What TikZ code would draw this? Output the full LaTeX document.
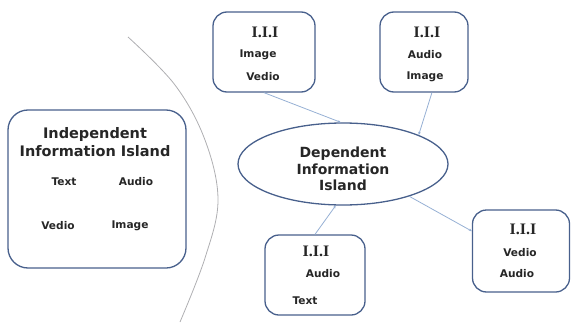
\documentclass[tikz,border=0pt]{standalone}
\usepackage{fontspec}
\setmainfont{DejaVu Sans}
\newfontfamily\serifb{Liberation Serif}
\usetikzlibrary{shapes.geometric,arrows.meta,calc}
\definecolor{boxblue}{RGB}{72,96,140}
\definecolor{linkblue}{RGB}{150,176,212}
\definecolor{curvegray}{RGB}{175,175,178}
\tikzset{
  roundbox/.style={draw=boxblue, line width=1.3pt, rounded corners=14pt, minimum width=#1, inner sep=0pt},
  bigtxt/.style={font=\fontsize{14.5}{18}\selectfont\bfseries, align=center, inner sep=0pt, text=black!85},
  elltxt/.style={font=\fontsize{14}{16.5}\selectfont\bfseries, align=center, inner sep=0pt, text=black!85},
  smalltxt/.style={font=\fontsize{10.6}{12}\selectfont\bfseries, inner sep=0pt, text=black!85},
  iiitxt/.style={font=\serifb\fontsize{16}{18}\selectfont\bfseries, inner sep=0pt, text=black!85},
  link/.style={draw=linkblue, line width=0.8pt, -{Stealth[length=3pt,width=2.6pt]}},
}
\begin{document}
\begin{tikzpicture}[x=1pt,y=-1pt]
\useasboundingbox (0,0) rectangle (572,329);
% curve
\draw[curvegray, line width=0.8pt] plot[smooth, tension=0.6] coordinates {(128,37) (175,85) (205,140) (218,200) (205,258) (180,322)};
% left big box
\node[roundbox=178pt, minimum height=158pt, rounded corners=20pt] (ind) at (97,189) {};
\node[bigtxt] (indt) at (95,142) {Independent\\Information Island};
\node[smalltxt] (t1) at (64,182) {Text};
\node[smalltxt] (t2) at (136,182) {Audio};
\node[smalltxt] (t3) at (58,226) {Vedio};
\node[smalltxt] (t4) at (130,226) {Image};
% ellipse
\node[ellipse, draw=boxblue, line width=1.3pt, minimum width=210pt, minimum height=82pt, inner sep=0pt] (ell) at (343,164) {};
\node[elltxt] (ellt) at (343,169) {Dependent\\Information\\Island};
% top left box
\node[roundbox=102pt, minimum height=80pt] (tl) at (264,52) {};
\node[iiitxt] (tl1) at (265,32) {I.I.I};
\node[smalltxt] (tl2) at (258,55) {Image};
\node[smalltxt] (tl3) at (263,77) {Vedio};
% top right box
\node[roundbox=88pt, minimum height=80pt] (tr) at (424,52) {};
\node[iiitxt] (tr1) at (427,32) {I.I.I};
\node[smalltxt] (tr2) at (425,55) {Audio};
\node[smalltxt] (tr3) at (425,77) {Image};
% bottom box
\node[roundbox=100pt, minimum height=80pt] (bt) at (315,275) {};
\node[iiitxt] (bt1) at (316,251) {I.I.I};
\node[smalltxt] (bt2) at (323,274) {Audio};
\node[smalltxt] (bt3) at (305,301) {Text};
% right box
\node[roundbox=97pt, minimum height=82pt] (rb) at (521,251) {};
\node[iiitxt] (rb1) at (523,229) {I.I.I};
\node[smalltxt] (rb2) at (520,253) {Vedio};
\node[smalltxt] (rb3) at (517,274) {Audio};
% connectors
\draw[link] (tl.south) -- (ell.93);
\draw[link] (tr.-79) -- (ell.21);
\draw[link] (bt.north) -- (ell.-100);
\draw[link] (ell.-26) -- (rb.158);
\end{tikzpicture}
\end{document}
